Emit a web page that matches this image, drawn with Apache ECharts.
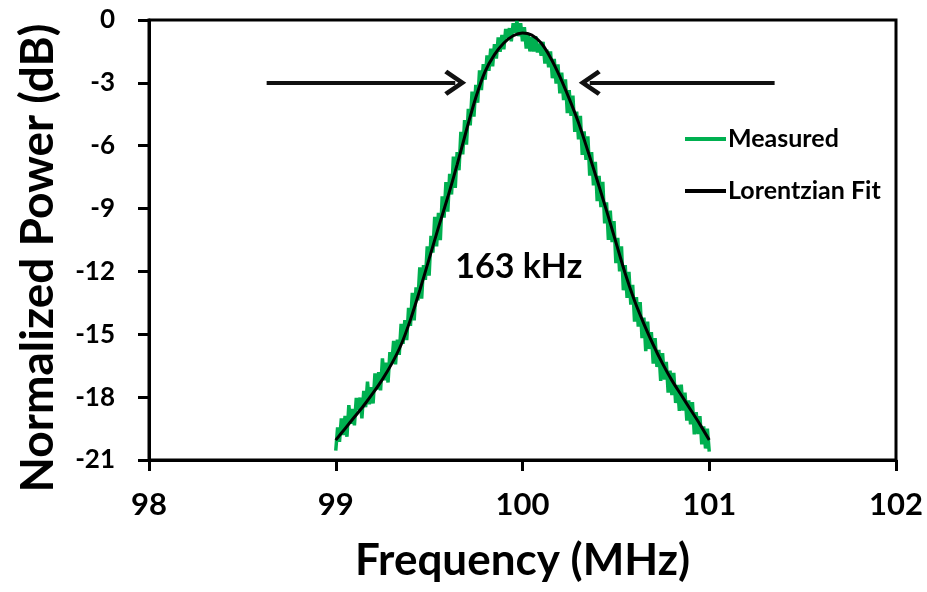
<!DOCTYPE html>
<html><head><meta charset="utf-8">
<script src="https://cdn.jsdelivr.net/npm/echarts@6/dist/echarts.min.js"></script>
<style>html,body{margin:0;padding:0;background:#fff}#c{width:927px;height:592px}</style>
</head><body><div id="c"></div>
<script>
// ---- data ----
const xTicks = [98, 99, 100, 101, 102];
const yTicks = [-21, -18, -15, -12, -9, -6, -3, 0];
const seriesNames = ['Measured', 'Lorentzian Fit'];
const xTitle = 'Frequency (MHz)';
const yTitle = 'Normalized Power (dB)';

const freqFit = [99.00,99.05,99.10,99.15,99.20,99.25,99.30,99.35,99.40,99.45,99.50,99.55,99.60,99.65,99.70,99.75,99.80,99.85,99.90,99.95,
  100.00,100.05,100.10,100.15,100.20,100.25,100.30,100.35,100.40,100.45,100.50,100.55,100.60,100.65,100.70,100.75,100.80,100.85,100.90,100.95,101.00];
const powerFit = [-20.05,-19.5,-18.95,-18.4,-17.8,-17.15,-16.4,-15.5,-14.3,-12.9,-11.4,-9.9,-8.45,-6.9,-5.25,-3.7,-2.45,-1.65,-1.1,-0.75,
  -0.62,-0.72,-1.1,-1.8,-2.7,-3.75,-4.9,-6.25,-7.65,-9.1,-10.6,-12.1,-13.4,-14.5,-15.5,-16.4,-17.2,-17.9,-18.6,-19.3,-20.05];

const freqMeasured = [
  99.00,99.01,99.02,99.03,99.04,99.05,99.06,99.07,99.08,99.09,99.10,99.11,99.12,99.13,99.14,99.15,99.16,99.17,99.18,99.19,
  99.20,99.21,99.22,99.23,99.24,99.25,99.26,99.27,99.28,99.29,99.30,99.31,99.32,99.33,99.34,99.35,99.36,99.37,99.38,99.39,
  99.40,99.41,99.42,99.43,99.44,99.45,99.46,99.47,99.48,99.49,99.50,99.51,99.52,99.53,99.54,99.55,99.56,99.57,99.58,99.59,
  99.60,99.61,99.62,99.63,99.64,99.65,99.66,99.67,99.68,99.69,99.70,99.71,99.72,99.73,99.74,99.75,99.76,99.77,99.78,99.79,
  99.80,99.81,99.82,99.83,99.84,99.85,99.86,99.87,99.88,99.89,99.90,99.91,99.92,99.93,99.94,99.95,99.96,99.97,99.98,99.99,
  100.00,100.01,100.02,100.03,100.04,100.05,100.06,100.07,100.08,100.09,100.10,100.11,100.12,100.13,100.14,100.15,100.16,100.17,100.18,100.19,
  100.20,100.21,100.22,100.23,100.24,100.25,100.26,100.27,100.28,100.29,100.30,100.31,100.32,100.33,100.34,100.35,100.36,100.37,100.38,100.39,
  100.40,100.41,100.42,100.43,100.44,100.45,100.46,100.47,100.48,100.49,100.50,100.51,100.52,100.53,100.54,100.55,100.56,100.57,100.58,100.59,
  100.60,100.61,100.62,100.63,100.64,100.65,100.66,100.67,100.68,100.69,100.70,100.71,100.72,100.73,100.74,100.75,100.76,100.77,100.78,100.79,
  100.80,100.81,100.82,100.83,100.84,100.85,100.86,100.87,100.88,100.89,100.90,100.91,100.92,100.93,100.94,100.95,100.96,100.97,100.98,100.99,
  101.00];
const powerMeasured = [
  -20.55,-19.44,-20.13,-19.02,-19.81,-18.90,-19.89,-18.38,-19.27,-18.56,-19.35,-18.04,-18.63,-18.02,-19.01,-17.70,-18.48,-17.26,-18.34,-17.52,
  -18.30,-16.87,-17.64,-16.81,-17.68,-16.15,-17.20,-16.35,-17.30,-15.85,-16.40,-15.32,-16.44,-15.26,-15.98,-14.50,-15.46,-14.32,-15.28,-13.74,
  -14.60,-13.02,-14.34,-12.76,-13.38,-11.80,-13.30,-11.70,-12.40,-10.80,-12.20,-10.30,-11.10,-9.40,-10.80,-9.20,-10.51,-8.42,-9.43,-7.74,
  -9.15,-7.34,-8.33,-6.52,-8.01,-6.30,-7.17,-5.34,-6.41,-4.78,-5.95,-4.24,-5.03,-3.42,-4.61,-3.10,-3.95,-2.40,-3.35,-2.10,
  -2.85,-1.69,-2.43,-1.37,-2.21,-1.15,-1.84,-0.83,-1.52,-0.71,-1.40,-0.43,-0.86,-0.39,-1.02,-0.15,-0.62,-0.05,-0.77,-0.15,
  -1.02,-0.34,-1.36,-0.68,-1.50,-0.82,-1.50,-0.77,-1.55,-1.12,-1.70,-1.04,-2.08,-1.42,-2.26,-1.50,-2.78,-1.86,-3.04,-2.12,
  -3.50,-2.51,-3.82,-2.83,-4.44,-3.35,-4.58,-3.61,-5.34,-4.37,-5.70,-4.57,-6.44,-5.31,-6.68,-5.55,-7.43,-6.31,-7.89,-6.77,
  -8.65,-7.44,-8.93,-7.72,-9.71,-8.70,-10.50,-9.10,-10.60,-9.60,-11.60,-10.40,-12.00,-10.80,-12.90,-11.70,-13.26,-12.02,-13.58,-12.64,
  -14.40,-13.22,-14.64,-13.46,-15.18,-14.20,-15.80,-14.40,-15.70,-14.90,-16.40,-15.18,-16.56,-15.74,-17.22,-15.90,-17.16,-16.32,-17.78,-16.74,
  -17.90,-16.84,-18.28,-17.42,-18.66,-17.40,-18.64,-17.78,-19.12,-18.16,-19.30,-18.24,-19.78,-18.72,-19.76,-18.90,-20.25,-19.40,-20.45,-19.50,
  -20.60];

// annotation arrows at the -3 dB level (data coordinates) and width label
const arrowLeft = [[98.63, -3], [99.64, -3]];
const arrowRight = [[101.35, -3], [100.36, -3]];
const widthLabel = { text: '163 kHz', coord: [99.98, -11.8] };

// ---- chart ----
const FONT = 'Lato, "DejaVu Sans", sans-serif';
const pair = (a, b) => a.map((v, i) => [v, b[i]]);
const chevron = 'path://M13,0 L26,19 L22.5,22 L13,8 L3.5,22 L0,19 Z';

const chart = echarts.init(document.getElementById('c'), null, { renderer: 'canvas' });
chart.setOption({
  animation: false,
  backgroundColor: '#ffffff',
  grid: { left: 149, right: 31, top: 20, bottom: 132, show: true, borderColor: '#000', borderWidth: 3, containLabel: false },
  legend: {
    orient: 'vertical', left: 680, top: 119, icon: 'rect', itemWidth: 41, itemHeight: 4, itemGap: 22,
    data: seriesNames,
    textStyle: { fontFamily: FONT, fontWeight: 'bold', fontSize: 25, color: '#000', lineHeight: 30, padding: [0, 0, 0, -3] }
  },
  xAxis: {
    type: 'value', min: xTicks[0], max: xTicks[xTicks.length - 1], interval: xTicks[1] - xTicks[0],
    name: xTitle, nameLocation: 'middle', nameGap: 79,
    nameTextStyle: { fontFamily: FONT, fontWeight: 'bold', fontSize: 44, color: '#000' },
    axisLine: { show: true, onZero: false, lineStyle: { color: '#000', width: 3 } },
    axisTick: { show: true, inside: false, length: 11, lineStyle: { color: '#000', width: 3 } },
    axisLabel: { margin: 29, fontFamily: FONT, fontWeight: 'bold', fontSize: 31, color: '#000' },
    splitLine: { show: false }
  },
  yAxis: {
    type: 'value', min: yTicks[0], max: yTicks[yTicks.length - 1], interval: yTicks[1] - yTicks[0],
    name: yTitle, nameLocation: 'middle', nameGap: 88, nameRotate: 90,
    nameTextStyle: { fontFamily: FONT, fontWeight: 'bold', fontSize: 46, color: '#000', padding: [0, 36, 0, 0] },
    axisLine: { show: true, onZero: false, lineStyle: { color: '#000', width: 3 } },
    axisTick: { show: true, inside: false, length: 11, lineStyle: { color: '#000', width: 3 } },
    axisLabel: { margin: 34, fontFamily: FONT, fontWeight: 'bold', fontSize: 26, color: '#000' },
    splitLine: { show: false }
  },
  series: [
    {
      name: seriesNames[0], type: 'line', data: pair(freqMeasured, powerMeasured),
      showSymbol: false, symbol: 'none', lineStyle: { color: '#00b050', width: 3.5 }, itemStyle: { color: '#00b050' }, z: 2
    },
    {
      name: seriesNames[1], type: 'line', data: pair(freqFit, powerFit), smooth: 0.3,
      showSymbol: false, symbol: 'none', lineStyle: { color: '#000', width: 3 }, itemStyle: { color: '#000' }, z: 3,
      markLine: {
        silent: true, symbol: ['none', chevron], symbolSize: [26, 22], symbolKeepAspect: false,
        label: { show: false },
        lineStyle: { color: '#111', width: 4, type: 'solid' },
        data: [
          [{ coord: arrowLeft[0] }, { coord: arrowLeft[1] }],
          [{ coord: arrowRight[0] }, { coord: arrowRight[1] }]
        ]
      },
      markPoint: {
        silent: true, symbol: 'circle', symbolSize: 0,
        label: { show: true, position: 'inside', formatter: widthLabel.text, fontFamily: FONT, fontWeight: 'bold', fontSize: 34, color: '#000' },
        data: [{ coord: widthLabel.coord }]
      }
    }
  ]
});
</script></body></html>
